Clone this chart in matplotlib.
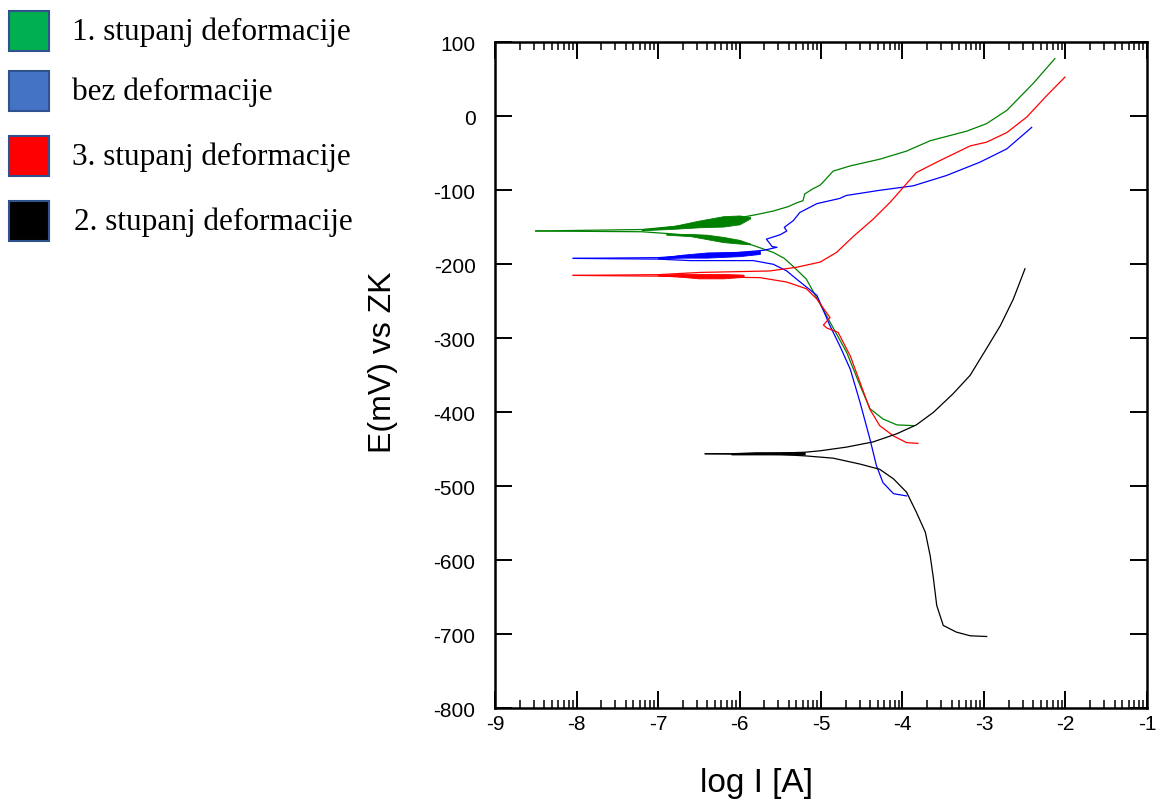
import numpy as np
import matplotlib
matplotlib.use("Agg")
import matplotlib.pyplot as plt
from matplotlib.patches import Rectangle

# ---------------- data (log I [A], E [mV]) ----------------
legend_labels = ["1. stupanj deformacije", "bez deformacije",
                 "3. stupanj deformacije", "2. stupanj deformacije"]
legend_colors = ["#00B050", "#4472C4", "#FF0000", "#000000"]

# green: 1. stupanj deformacije
g_an_x = [-8.5, -7.2, -6.8, -6.4, -6.0, -5.8, -5.585, -5.40, -5.30, -5.22, -5.20, -5.10,
          -5.01, -4.95, -4.85, -4.64, -4.28, -3.95, -3.66, -3.21, -2.97, -2.72, -2.40, -2.13]
g_an_y = [-155, -153, -149, -143, -137, -133, -128, -122, -117, -114, -105, -98,
          -93, -86, -74, -67, -58, -47, -33, -20, -10, 8, 44, 78]
g_ca_x = [-8.5, -7.2, -6.81, -6.4, -6.2, -5.87, -5.585, -5.45, -5.34, -5.18, -5.09, -4.89,
          -4.685, -4.52, -4.40, -4.24, -4.07, -3.87]
g_ca_y = [-155, -156, -159, -163, -166, -173, -184, -192, -203, -220, -238, -278,
          -319, -364, -395, -409, -417, -418]
g_band1_x = [-7.2, -6.8, -6.5, -6.2, -6.0, -5.87]
g_band1_lo = [-154, -152, -150, -149, -146, -138]
g_band1_hi = [-153, -148, -141, -135, -134, -136]
g_band2_x = [-6.9, -6.6, -6.4, -6.2, -6.0, -5.87]
g_band2_lo = [-160, -162, -166, -170, -172, -173]
g_band2_hi = [-159, -159, -160, -163, -167, -172]

# blue: bez deformacije
b_an_x = [-8.04, -7.0, -6.4, -6.0, -5.7, -5.54, -5.6, -5.67, -5.5, -5.42, -5.45, -5.34,
          -5.26, -5.05, -4.77, -4.69, -4.28, -3.87, -3.46, -3.05, -2.72, -2.415]
b_an_y = [-192, -191, -187, -184, -181, -177, -176, -166, -160, -155, -150, -141,
          -130, -118, -111, -107, -100, -94, -80, -62, -44, -15]
b_ca_x = [-8.04, -7.0, -6.6, -5.83, -5.585, -5.42, -5.30, -5.05, -4.89, -4.77, -4.64,
          -4.52, -4.40, -4.32, -4.24, -4.11, -3.95]
b_ca_y = [-192, -193, -195, -195, -200, -209, -220, -242, -283, -310, -342,
          -387, -436, -472, -495, -510, -513]
b_band_x = [-7.0, -6.7, -6.4, -6.0, -5.75]
b_band_lo = [-192, -191, -191, -189, -186]
b_band_hi = [-191, -187, -184, -183, -182]

# red: 3. stupanj deformacije
r_an_x = [-8.04, -7.0, -6.485, -5.63, -5.30, -5.01, -4.81, -4.60, -4.36, -4.15, -3.99,
          -3.83, -3.58, -3.17, -2.97, -2.72, -2.475, -2.23, -2.006]
r_an_y = [-215, -214, -211, -209, -204, -197, -184, -162, -139, -116, -96,
          -76, -62, -40, -35, -22, -1, 28, 53]
r_ca_x = [-8.04, -7.0, -6.5, -5.75, -5.42, -5.18, -5.05, -4.89, -4.97, -4.93, -4.79,
          -4.64, -4.52, -4.40, -4.28, -4.11, -3.95, -3.81]
r_ca_y = [-215, -216, -217, -218, -224, -233, -247, -272, -282, -286, -292,
          -324, -360, -396, -418, -432, -441, -442]
r_band_x = [-7.0, -6.7, -6.5, -6.2, -5.95]
r_band_lo = [-215, -217, -219, -219, -217]
r_band_hi = [-214, -213, -213, -213, -214]

# black: 2. stupanj deformacije
k_an_x = [-6.42, -6.1, -5.5, -5.2, -5.01, -4.685, -4.36, -4.07, -3.83, -3.62, -3.38,
          -3.17, -2.97, -2.80, -2.64, -2.497]
k_an_y = [-456, -456, -455, -454, -452, -447, -440, -429, -417, -400, -375,
          -350, -314, -283, -247, -206]
k_ca_x = [-6.42, -5.5, -5.18, -4.85, -4.52, -4.28, -4.11, -3.95, -3.83, -3.72, -3.66,
          -3.62, -3.58, -3.50, -3.34, -3.17, -2.967]
k_ca_y = [-456, -457, -459, -462, -470, -477, -490, -508, -535, -562, -594,
          -625, -661, -688, -697, -702, -703]
k_band_x = [-6.1, -5.8, -5.5, -5.2]
k_band_lo = [-457, -457, -457, -457]
k_band_hi = [-455, -454, -454, -454]

x_ticks = [-9, -8, -7, -6, -5, -4, -3, -2, -1]
y_ticks = [100, 0, -100, -200, -300, -400, -500, -600, -700, -800]

# ---------------- figure ----------------
W, H = 1157, 812
fig = plt.figure(figsize=(W / 100, H / 100), dpi=100)
ax = fig.add_axes([495 / W, 1 - 709.3 / H, (1147 - 495) / W, (709.3 - 43.3) / H])

lw = 0.9
series = [
    ("#008000", g_an_x, g_an_y, g_ca_x, g_ca_y,
     [(g_band1_x, g_band1_lo, g_band1_hi), (g_band2_x, g_band2_lo, g_band2_hi)]),
    ("#0000FF", b_an_x, b_an_y, b_ca_x, b_ca_y, [(b_band_x, b_band_lo, b_band_hi)]),
    ("#FF0000", r_an_x, r_an_y, r_ca_x, r_ca_y, [(r_band_x, r_band_lo, r_band_hi)]),
    ("#000000", k_an_x, k_an_y, k_ca_x, k_ca_y, [(k_band_x, k_band_lo, k_band_hi)]),
]
for col, ax_, ay_, cx_, cy_, bands in series:
    ax.plot(ax_, ay_, color=col, lw=lw)
    ax.plot(cx_, cy_, color=col, lw=lw)
    for bx, blo, bhi in bands:
        ax.fill_between(bx, blo, bhi, color=col, lw=0.6, edgecolor=col)

ax.set_xlim(-9, -1)
ax.set_ylim(-800, 100)
ax.set_xticks(x_ticks)
ax.set_xticklabels([str(v) for v in x_ticks])
ax.set_yticks(y_ticks)
ax.set_yticklabels([str(v) for v in y_ticks])
minor = [d + np.log10(k) for d in range(-9, -1) for k in range(2, 10)]
ax.set_xticks(minor, minor=True)

for sp in ax.spines.values():
    sp.set_linewidth(1.8)
ax.tick_params(axis="both", which="major", direction="in", length=12, width=1.4,
               labelsize=15, top=True, right=True)
ax.tick_params(axis="x", which="minor", direction="in", length=6, width=1.1,
               top=True, bottom=True)
ax.tick_params(axis="y", which="major", pad=14)
ax.tick_params(axis="x", which="major", pad=4)
for lab in ax.get_xticklabels() + ax.get_yticklabels():
    lab.set_fontfamily("Liberation Sans")

fig.text(383 / W, 1 - 362 / H, "E(mV) vs ZK", rotation=90, ha="center", va="center",
         fontsize=23, family="Liberation Sans")
fig.text(757 / W, 1 - 784 / H, "log I [A]", ha="center", va="center",
         fontsize=24, family="Liberation Sans")

# legend at left
sq_tops = [12, 72, 137, 202]
text_x = [72, 72, 72, 74]
for top, col, lab, tx in zip(sq_tops, legend_colors, legend_labels, text_x):
    fig.add_artist(Rectangle((9 / W, 1 - (top + 40) / H), 40 / W, 40 / H,
                             transform=fig.transFigure, facecolor=col,
                             edgecolor="#2F528F", lw=1.5))
    fig.text(tx / W, 1 - (top + 20) / H, lab, ha="left", va="center",
             fontsize=22.5, family="Liberation Serif")

fig.savefig("out.png", dpi=100)
